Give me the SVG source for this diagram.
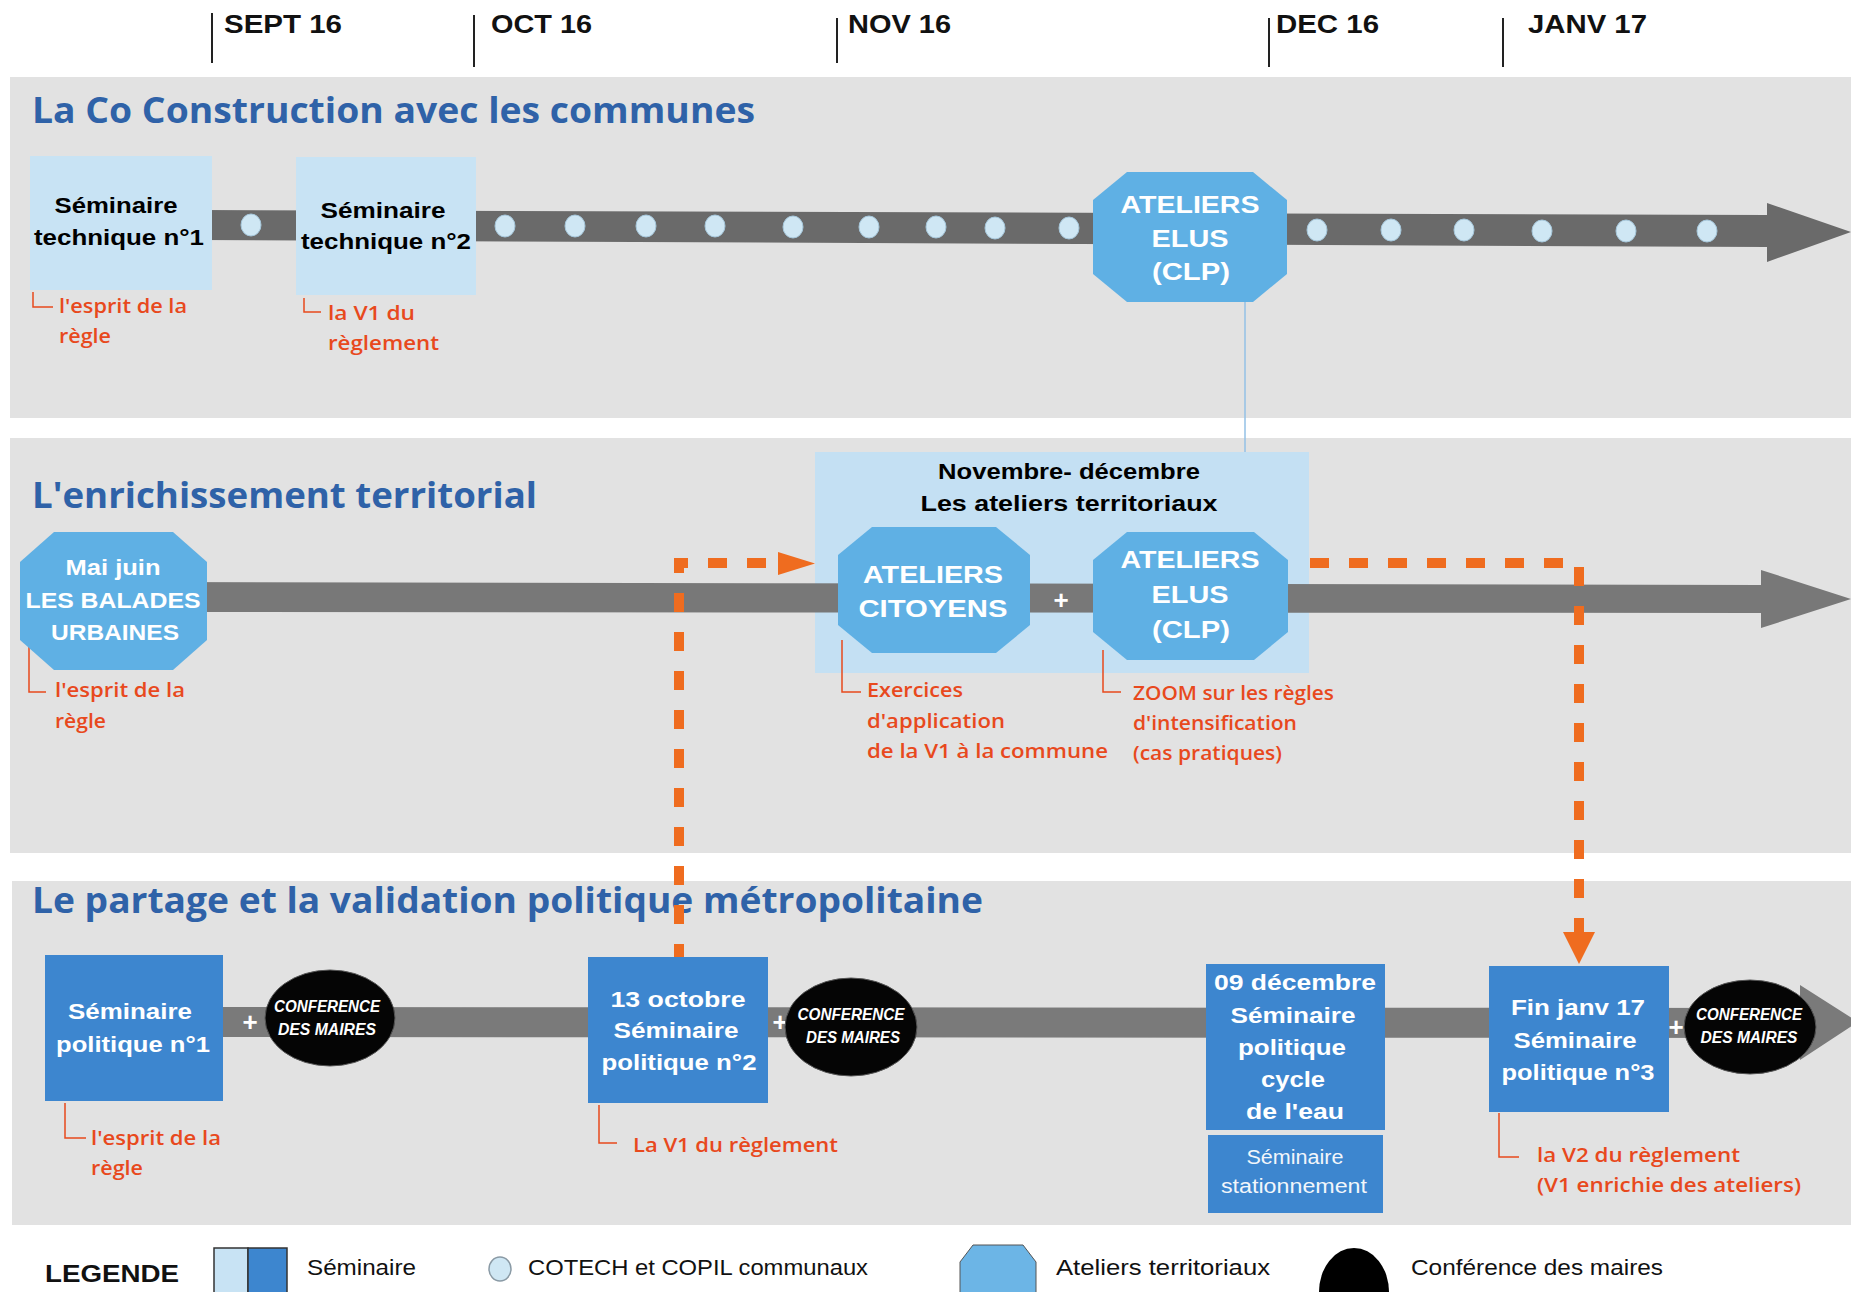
<svg xmlns="http://www.w3.org/2000/svg" width="1851" height="1292" viewBox="0 0 1851 1292">
<style>
.band{fill:#e2e2e2}
.month{font-family:"Liberation Sans",Arial,sans-serif;font-weight:bold;font-size:25px;fill:#111}
.tick{stroke:#222;stroke-width:2}
.title{font-family:"Open Sans","Liberation Sans",sans-serif;font-weight:700;font-size:35px;fill:#2f62a8}
.blk{font-family:"Liberation Sans",Arial,sans-serif;font-weight:bold;font-size:22px;fill:#000;text-anchor:middle}
.wht{font-family:"Liberation Sans",Arial,sans-serif;font-weight:bold;font-size:22px;fill:#fff;text-anchor:middle}
.oct{font-family:"Liberation Sans",Arial,sans-serif;font-weight:bold;font-size:24px;fill:#fff;text-anchor:middle}
.wreg{font-family:"Liberation Sans",Arial,sans-serif;font-size:20px;fill:#f2f6fb;text-anchor:middle}
.red{font-family:"Open Sans","Liberation Sans",sans-serif;font-weight:600;font-size:20px;fill:#e8491d}
.conf{font-family:"Liberation Sans",Arial,sans-serif;font-weight:bold;font-style:italic;font-size:16px;fill:#fff;text-anchor:middle}
.plus{font-family:"Liberation Sans",Arial,sans-serif;font-weight:bold;font-size:26px;fill:#fff;text-anchor:middle}
.leg{font-family:"Liberation Sans",Arial,sans-serif;font-size:22px;fill:#111}
.ltbox{fill:#c8e3f4}
.dkbox{fill:#3d86cf}
.octo{fill:#5fb0e4}
.dot{fill:#cfe7f4;stroke:#a6c7db;stroke-width:1}
.cm{fill:#050505;stroke:#555;stroke-width:1}
.brk{fill:none;stroke:#e8491d;stroke-width:1.5}
.dash{fill:none;stroke:#ef6c1f;stroke-width:10;stroke-dasharray:19 20}
.oarr{fill:#ef6c1f}
</style>
<rect width="1851" height="1292" fill="#ffffff"/>
<!-- bands -->
<rect class="band" x="10" y="77" width="1841" height="341"/>
<rect class="band" x="10" y="438" width="1841" height="415"/>
<rect class="band" x="12" y="881" width="1839" height="344"/>

<!-- timeline header -->
<g id="months">
<line class="tick" x1="212" y1="13" x2="212" y2="63"/>
<line class="tick" x1="474" y1="15" x2="474" y2="67"/>
<line class="tick" x1="837" y1="18" x2="837" y2="63"/>
<line class="tick" x1="1269" y1="18" x2="1269" y2="67"/>
<line class="tick" x1="1503" y1="18" x2="1503" y2="67"/>
<text class="month" x="224" y="33" textLength="118" lengthAdjust="spacingAndGlyphs">SEPT 16</text>
<text class="month" x="491" y="33" textLength="101" lengthAdjust="spacingAndGlyphs">OCT 16</text>
<text class="month" x="848" y="33" textLength="103" lengthAdjust="spacingAndGlyphs">NOV 16</text>
<text class="month" x="1276" y="33" textLength="103" lengthAdjust="spacingAndGlyphs">DEC 16</text>
<text class="month" x="1528" y="33" textLength="119" lengthAdjust="spacingAndGlyphs">JANV 17</text>
</g>

<!-- section titles -->
<text class="title" x="32" y="123" textLength="723" lengthAdjust="spacingAndGlyphs">La Co Construction avec les communes</text>
<text class="title" x="32" y="508" textLength="505" lengthAdjust="spacingAndGlyphs">L'enrichissement territorial</text>
<text class="title" x="32" y="913" textLength="951" lengthAdjust="spacingAndGlyphs">Le partage et la validation politique métropolitaine</text>

<!-- row 2 background box -->
<g id="ateliers-territoriaux">
<rect x="815" y="452" width="494" height="221" fill="#c4e0f3"/>
<text class="blk" x="1069" y="479" textLength="262" lengthAdjust="spacingAndGlyphs">Novembre- décembre</text>
<text class="blk" x="1069" y="511" textLength="297" lengthAdjust="spacingAndGlyphs">Les ateliers territoriaux</text>
</g>

<!-- connectors -->
<g id="connectors">
<polygon fill="#6a6a6a" points="200,210 1767,215 1767,203 1851,232 1767,262 1767,247 200,240"/>
<polygon fill="#787878" points="150,582 1761,585 1761,570 1851,599 1761,628 1761,613 150,612"/>
<polygon fill="#7a7a7a" points="200,1007 1800,1008 1800,985 1858,1022 1800,1060 1800,1038 200,1037"/>
<line x1="1245" y1="302" x2="1245" y2="452" stroke="#93c0e6" stroke-width="1.5"/>
<path class="dash" d="M766,563 H679 V957"/>
<polygon class="oarr" points="778,552 815,563.5 778,575"/>
<path class="dash" d="M1310,563 H1579 V932"/>
<polygon class="oarr" points="1563,932 1595,932 1579,964"/>
</g>

<!-- row 1 dots -->
<g id="cotech-dots">
<ellipse class="dot" cx="251" cy="225" rx="10" ry="11"/>
<ellipse class="dot" cx="505" cy="226" rx="10" ry="11"/>
<ellipse class="dot" cx="575" cy="226" rx="10" ry="11"/>
<ellipse class="dot" cx="646" cy="226" rx="10" ry="11"/>
<ellipse class="dot" cx="715" cy="226" rx="10" ry="11"/>
<ellipse class="dot" cx="793" cy="227" rx="10" ry="11"/>
<ellipse class="dot" cx="869" cy="227" rx="10" ry="11"/>
<ellipse class="dot" cx="936" cy="227" rx="10" ry="11"/>
<ellipse class="dot" cx="995" cy="228" rx="10" ry="11"/>
<ellipse class="dot" cx="1069" cy="228" rx="10" ry="11"/>
<ellipse class="dot" cx="1317" cy="230" rx="10" ry="11"/>
<ellipse class="dot" cx="1391" cy="230" rx="10" ry="11"/>
<ellipse class="dot" cx="1464" cy="230" rx="10" ry="11"/>
<ellipse class="dot" cx="1542" cy="231" rx="10" ry="11"/>
<ellipse class="dot" cx="1626" cy="231" rx="10" ry="11"/>
<ellipse class="dot" cx="1707" cy="231" rx="10" ry="11"/>
</g>

<!-- row 1 nodes -->
<g id="sem-tech-1">
<rect class="ltbox" x="30" y="156" width="182" height="134"/>
<text class="blk" x="116" y="213" textLength="123" lengthAdjust="spacingAndGlyphs">Séminaire</text>
<text class="blk" x="119" y="245" textLength="170" lengthAdjust="spacingAndGlyphs">technique n°1</text>
<path class="brk" d="M33,292 V307 H53"/>
<text class="red" x="59" y="313" textLength="128" lengthAdjust="spacingAndGlyphs">l'esprit de la</text>
<text class="red" x="59" y="343" textLength="52" lengthAdjust="spacingAndGlyphs">règle</text>
</g>
<g id="sem-tech-2">
<rect class="ltbox" x="296" y="157" width="180" height="138"/>
<text class="blk" x="383" y="218" textLength="125" lengthAdjust="spacingAndGlyphs">Séminaire</text>
<text class="blk" x="386" y="249" textLength="170" lengthAdjust="spacingAndGlyphs">technique n°2</text>
<path class="brk" d="M304,298 V312 H321"/>
<text class="red" x="328" y="320" textLength="87" lengthAdjust="spacingAndGlyphs">la V1 du</text>
<text class="red" x="328" y="350" textLength="111" lengthAdjust="spacingAndGlyphs">règlement</text>
</g>
<g id="ateliers-elus-1">
<polygon class="octo" points="1127,172 1253,172 1287,200 1287,274 1253,302 1127,302 1093,274 1093,200"/>
<text class="oct" x="1190" y="213" textLength="139" lengthAdjust="spacingAndGlyphs">ATELIERS</text>
<text class="oct" x="1190" y="247" textLength="77" lengthAdjust="spacingAndGlyphs">ELUS</text>
<text class="oct" x="1191" y="280" textLength="78" lengthAdjust="spacingAndGlyphs">(CLP)</text>
</g>

<!-- row 2 nodes -->
<g id="balades">
<path class="brk" d="M29,645 V692 H46"/>
<polygon class="octo" points="54,532 173,532 207,562 207,640 173,670 54,670 20,640 20,562"/>
<text class="wht" x="113" y="575" font-size="21" textLength="95" lengthAdjust="spacingAndGlyphs">Mai juin</text>
<text class="wht" x="113" y="608" font-size="21" textLength="175" lengthAdjust="spacingAndGlyphs">LES BALADES</text>
<text class="wht" x="115" y="640" font-size="21" textLength="128" lengthAdjust="spacingAndGlyphs">URBAINES</text>
<text class="red" x="55" y="697" textLength="130" lengthAdjust="spacingAndGlyphs">l'esprit de la</text>
<text class="red" x="55" y="728" textLength="51" lengthAdjust="spacingAndGlyphs">règle</text>
</g>
<g id="ateliers-citoyens">
<path class="brk" d="M842,640 V692 H861"/>
<polygon class="octo" points="872,527 996,527 1030,555 1030,625 996,653 872,653 838,625 838,555"/>
<text class="oct" x="933" y="583" textLength="140" lengthAdjust="spacingAndGlyphs">ATELIERS</text>
<text class="oct" x="933" y="617" textLength="149" lengthAdjust="spacingAndGlyphs">CITOYENS</text>
<text class="red" x="867" y="697" textLength="96" lengthAdjust="spacingAndGlyphs">Exercices</text>
<text class="red" x="867" y="728" textLength="138" lengthAdjust="spacingAndGlyphs">d'application</text>
<text class="red" x="867" y="758" textLength="241" lengthAdjust="spacingAndGlyphs">de la V1 à la commune</text>
</g>
<text class="plus" x="1061" y="609">+</text>
<g id="ateliers-elus-2">
<path class="brk" d="M1103,650 V692 H1121"/>
<polygon class="octo" points="1127,532 1254,532 1288,560 1288,632 1254,660 1127,660 1093,632 1093,560"/>
<text class="oct" x="1190" y="568" textLength="139" lengthAdjust="spacingAndGlyphs">ATELIERS</text>
<text class="oct" x="1190" y="603" textLength="77" lengthAdjust="spacingAndGlyphs">ELUS</text>
<text class="oct" x="1191" y="638" textLength="78" lengthAdjust="spacingAndGlyphs">(CLP)</text>
<text class="red" x="1133" y="700" textLength="201" lengthAdjust="spacingAndGlyphs">ZOOM sur les règles</text>
<text class="red" x="1133" y="730" textLength="164" lengthAdjust="spacingAndGlyphs">d'intensification</text>
<text class="red" x="1133" y="760" textLength="149" lengthAdjust="spacingAndGlyphs">(cas pratiques)</text>
</g>

<!-- row 3 nodes -->
<g id="sem-pol-1">
<rect class="dkbox" x="45" y="955" width="178" height="146"/>
<text class="wht" x="130" y="1019" textLength="124" lengthAdjust="spacingAndGlyphs">Séminaire</text>
<text class="wht" x="133" y="1052" textLength="154" lengthAdjust="spacingAndGlyphs">politique n°1</text>
<path class="brk" d="M65,1103 V1138 H86"/>
<text class="red" x="91" y="1145" textLength="130" lengthAdjust="spacingAndGlyphs">l'esprit de la</text>
<text class="red" x="91" y="1175" textLength="52" lengthAdjust="spacingAndGlyphs">règle</text>
</g>
<text class="plus" x="250" y="1031">+</text>
<g id="conf-1">
<ellipse class="cm" cx="330" cy="1018" rx="65" ry="48"/>
<text class="conf" x="327" y="1012" textLength="106" lengthAdjust="spacingAndGlyphs">CONFERENCE</text>
<text class="conf" x="327" y="1035" textLength="98" lengthAdjust="spacingAndGlyphs">DES MAIRES</text>
</g>
<g id="sem-pol-2">
<rect class="dkbox" x="588" y="957" width="180" height="146"/>
<text class="wht" x="678" y="1007" textLength="135" lengthAdjust="spacingAndGlyphs">13 octobre</text>
<text class="wht" x="676" y="1038" textLength="125" lengthAdjust="spacingAndGlyphs">Séminaire</text>
<text class="wht" x="679" y="1070" textLength="155" lengthAdjust="spacingAndGlyphs">politique n°2</text>
<path class="brk" d="M599,1105 V1143 H617"/>
<text class="red" x="633" y="1152" textLength="205" lengthAdjust="spacingAndGlyphs">La V1 du règlement</text>
</g>
<text class="plus" x="780" y="1031">+</text>
<g id="conf-2">
<ellipse class="cm" cx="851" cy="1027" rx="66" ry="49"/>
<text class="conf" x="851" y="1020" textLength="107" lengthAdjust="spacingAndGlyphs">CONFERENCE</text>
<text class="conf" x="853" y="1043" textLength="94" lengthAdjust="spacingAndGlyphs">DES MAIRES</text>
</g>
<g id="sem-pol-eau">
<rect class="dkbox" x="1206" y="964" width="179" height="166"/>
<text class="wht" x="1295" y="990" textLength="162" lengthAdjust="spacingAndGlyphs">09 décembre</text>
<text class="wht" x="1293" y="1023" textLength="125" lengthAdjust="spacingAndGlyphs">Séminaire</text>
<text class="wht" x="1292" y="1055" textLength="108" lengthAdjust="spacingAndGlyphs">politique</text>
<text class="wht" x="1293" y="1087" textLength="64" lengthAdjust="spacingAndGlyphs">cycle</text>
<text class="wht" x="1295" y="1119" textLength="98" lengthAdjust="spacingAndGlyphs">de l'eau</text>
</g>
<g id="sem-stationnement">
<rect class="dkbox" x="1208" y="1135" width="175" height="78"/>
<text class="wreg" x="1295" y="1164" textLength="97" lengthAdjust="spacingAndGlyphs">Séminaire</text>
<text class="wreg" x="1294" y="1193" textLength="146" lengthAdjust="spacingAndGlyphs">stationnement</text>
</g>
<g id="sem-pol-3">
<rect class="dkbox" x="1489" y="966" width="180" height="146"/>
<text class="wht" x="1578" y="1015" textLength="134" lengthAdjust="spacingAndGlyphs">Fin janv 17</text>
<text class="wht" x="1575" y="1048" textLength="123" lengthAdjust="spacingAndGlyphs">Séminaire</text>
<text class="wht" x="1578" y="1080" textLength="153" lengthAdjust="spacingAndGlyphs">politique n°3</text>
<path class="brk" d="M1499,1113 V1157 H1519"/>
<text class="red" x="1537" y="1162" textLength="203" lengthAdjust="spacingAndGlyphs">la V2 du règlement</text>
<text class="red" x="1537" y="1192" textLength="264" lengthAdjust="spacingAndGlyphs">(V1 enrichie des ateliers)</text>
</g>
<text class="plus" x="1676" y="1036">+</text>
<g id="conf-3">
<ellipse class="cm" cx="1750" cy="1027" rx="66" ry="47"/>
<text class="conf" x="1749" y="1020" textLength="106" lengthAdjust="spacingAndGlyphs">CONFERENCE</text>
<text class="conf" x="1749" y="1043" textLength="97" lengthAdjust="spacingAndGlyphs">DES MAIRES</text>
</g>

<!-- legend -->
<g id="legend">
<text x="45" y="1282" font-family="Liberation Sans, Arial, sans-serif" font-weight="bold" font-size="24" fill="#111" textLength="134" lengthAdjust="spacingAndGlyphs">LEGENDE</text>
<rect x="214" y="1248" width="34" height="50" fill="#c8e3f4" stroke="#333" stroke-width="1.5"/>
<rect x="248" y="1248" width="39" height="50" fill="#3d86cf" stroke="#333" stroke-width="1.5"/>
<text class="leg" x="307" y="1275" textLength="109" lengthAdjust="spacingAndGlyphs">Séminaire</text>
<ellipse cx="500" cy="1269" rx="11" ry="12" fill="#cfe7f4" stroke="#8a9aa5" stroke-width="1.5"/>
<text class="leg" x="528" y="1275" textLength="340" lengthAdjust="spacingAndGlyphs">COTECH et COPIL communaux</text>
<polygon points="973,1245 1023,1245 1036,1262 1036,1300 1023,1318 973,1318 960,1300 960,1262" fill="#6cb5e6" stroke="#555" stroke-width="1"/>
<text class="leg" x="1056" y="1275" textLength="214" lengthAdjust="spacingAndGlyphs">Ateliers territoriaux</text>
<ellipse cx="1354" cy="1292" rx="35" ry="44" fill="#000"/>
<text class="leg" x="1411" y="1275" textLength="252" lengthAdjust="spacingAndGlyphs">Conférence des maires</text>
</g>
</svg>
